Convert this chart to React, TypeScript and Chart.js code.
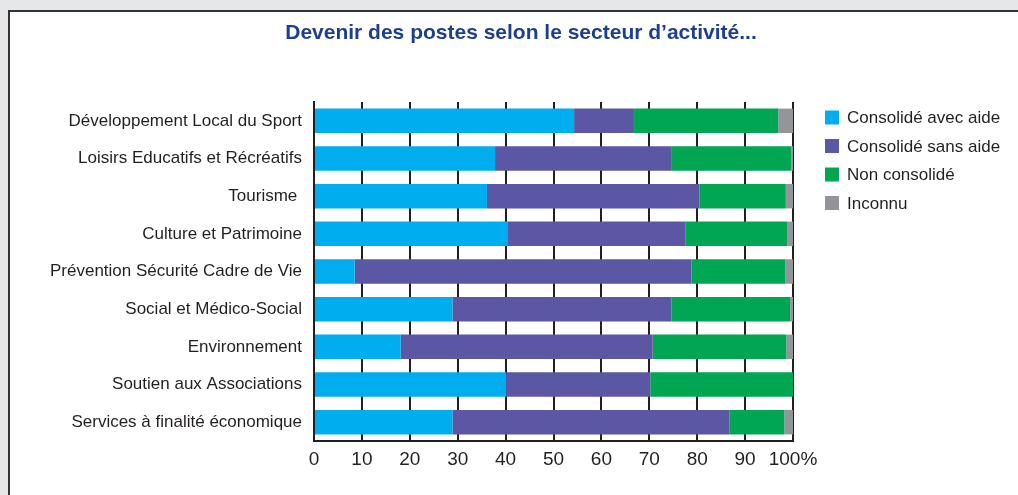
import React, { useEffect, useRef } from "react";
import { Chart, registerables } from "chart.js";

Chart.register(...registerables);

const TITLE = "Devenir des postes selon le secteur d\u2019activité...";

const categories = [
  "Développement Local du Sport",
  "Loisirs Educatifs et Récréatifs",
  "Tourisme ",
  "Culture et Patrimoine",
  "Prévention Sécurité Cadre de Vie",
  "Social et Médico-Social",
  "Environnement",
  "Soutien aux Associations",
  "Services à finalité économique",
];

const seriesLabels = ["Consolidé avec aide", "Consolidé sans aide", "Non consolidé", "Inconnu"];

const avecAide = [54.3, 37.8, 36.1, 40.5, 8.5, 28.9, 18.1, 40.1, 28.9];
const sansAide = [12.3, 36.9, 44.4, 37.0, 70.3, 45.7, 52.6, 30.1, 57.8];
const nonConsolide = [30.3, 24.9, 18.0, 21.3, 19.6, 24.8, 27.9, 29.8, 11.5];
const inconnu = [3.1, 0.4, 1.5, 1.2, 1.6, 0.6, 1.4, 0, 1.8];

const xTicks = [0, 10, 20, 30, 40, 50, 60, 70, 80, 90, 100];

const colors = ["#00aeef", "#5b57a5", "#00a651", "#939598"];
const INK = "#231f20";
const FONT = '"Liberation Sans", Arial, sans-serif';

const overlayPlugin = {
  id: "overlay",
  afterDraw(chart: any) {
    const ctx = chart.ctx as CanvasRenderingContext2D;
    ctx.save();
    // Title
    ctx.font = 'bold 21px "Liberation Sans", Arial, sans-serif';
    ctx.fillStyle = "#1e3f8e";
    ctx.textAlign = "center";
    ctx.textBaseline = "middle";
    ctx.fillText(TITLE, 521, 33);
    // Legend
    ctx.font = "17px " + FONT;
    ctx.textAlign = "left";
    chart.data.datasets.forEach((ds: any, i: number) => {
      const cy = 117.5 + i * 28.5;
      ctx.fillStyle = ds.backgroundColor;
      ctx.fillRect(825, cy - 7, 14, 14);
      ctx.fillStyle = INK;
      ctx.fillText(ds.label, 847, cy + 1);
    });
    ctx.restore();
  },
};

export default function App() {
  const ref = useRef<HTMLCanvasElement | null>(null);

  useEffect(() => {
    if (!ref.current) return;
    const data = [avecAide, sansAide, nonConsolide, inconnu];
    const chart = new Chart(ref.current, {
      type: "bar",
      data: {
        labels: categories,
        datasets: seriesLabels.map((label, i) => ({
          label,
          data: data[i],
          backgroundColor: colors[i],
          borderWidth: 0,
          categoryPercentage: 0.65,
          barPercentage: 1,
        })),
      },
      options: {
        indexAxis: "y",
        responsive: false,
        animation: false,
        devicePixelRatio: 1,
        layout: { padding: { top: 102, right: 225, left: 0, bottom: 0 } },
        plugins: {
          legend: { display: false },
          title: { display: false },
          tooltip: { enabled: false },
        },
        scales: {
          x: {
            stacked: true,
            min: 0,
            max: 100,
            afterBuildTicks: (scale: any) => {
              scale.ticks = xTicks.map((v) => ({ value: v }));
            },
            afterFit: (scale: any) => {
              scale.height = 54;
            },
            ticks: {
              callback: (v: any) => (v === 100 ? "100%" : String(v)),
              font: { size: 19, family: FONT },
              color: INK,
              padding: 7,
              maxRotation: 0,
              autoSkip: false,
            },
            grid: { color: INK, lineWidth: 2, drawTicks: false },
            border: { color: INK, width: 2 },
          },
          y: {
            stacked: true,
            afterFit: (scale: any) => {
              scale.width = 314;
            },
            ticks: {
              font: { size: 17, family: FONT },
              color: INK,
              padding: 12,
              autoSkip: false,
            },
            grid: { display: false, drawTicks: false },
            border: { color: INK, width: 2 },
          },
        },
      },
      plugins: [overlayPlugin],
    });
    return () => chart.destroy();
  }, []);

  return (
    <div
      style={{
        position: "fixed",
        left: 0,
        top: 0,
        width: 1018,
        height: 495,
        background: "#e6e7e8",
        overflow: "hidden",
      }}
    >
      <div
        style={{
          position: "absolute",
          left: 8,
          top: 10,
          width: 1030,
          height: 500,
          background: "#ffffff",
          borderLeft: "2px solid #333333",
          borderTop: "2px solid #333333",
        }}
      />
      <canvas
        ref={ref}
        width={1018}
        height={495}
        style={{ position: "absolute", left: 0, top: 0, width: 1018, height: 495, display: "block" }}
      />
    </div>
  );
}
